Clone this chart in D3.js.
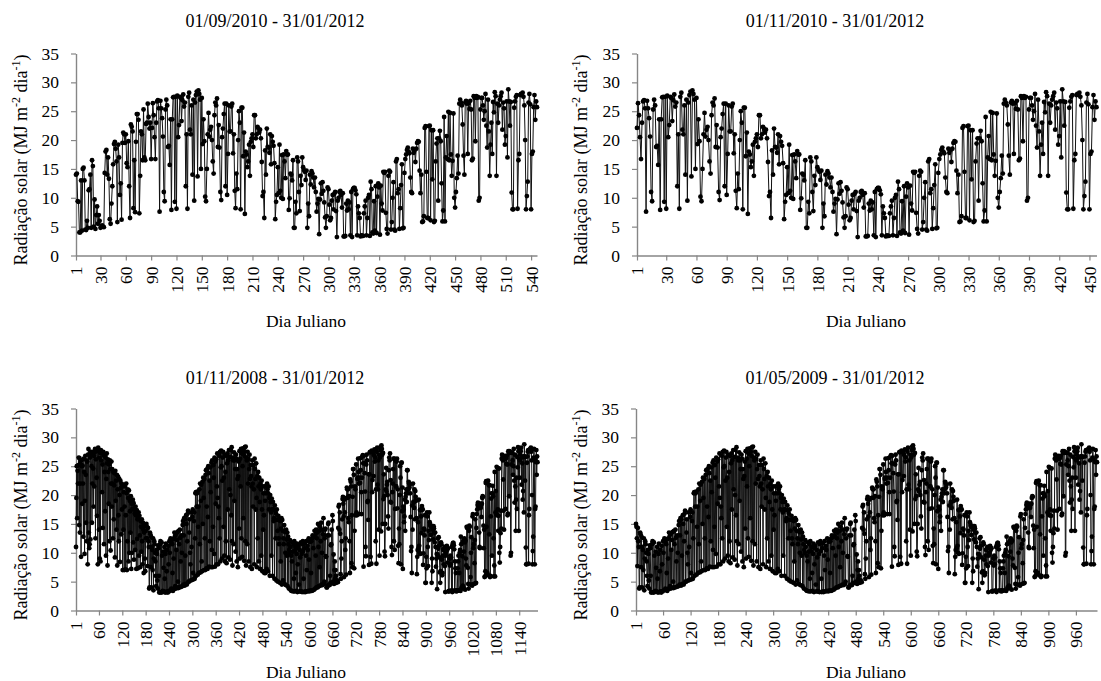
<!DOCTYPE html>
<html>
<head>
<meta charset="utf-8">
<script src="https://cdn.jsdelivr.net/npm/d3@7"></script>
<style>
  html, body { margin: 0; padding: 0; background: #fff; }
  svg text { font-family: 'Liberation Serif', 'Times New Roman', Times, serif !important; }
</style>
</head>
<body>
<svg id="chart" width="1101" height="681"></svg>
<script>
// Daily global solar radiation (MJ m-2 dia-1), one array per month,
// from 01/11/2008 to 31/01/2012.
const nov2008 = [11.0,19.5,25.0,16.0,24.2,22.0,25.2,26.5,14.8,26.4,13.5,22.0,25.5,9.3,26.0,25.0,18.5,25.1,22.0,12.8,26.3,24.0,9.8,19.0,26.8,23.5,15.2,26.0,12.0,25.8];
const dec2008 = [8.0,27.0,28.0,13.5,10.8,11.5,26.5,12.3,27.5,27.0,25.0,15.2,22.0,27.5,24.6,18.0,26.8,21.5,27.4,28.0,12.5,26.2,27.6,23.0,16.4,27.9,8.0,28.2,27.8,14.0,26.5];
const jan2009 = [9.0,27.3,8.5,27.8,26.0,27.5,20.5,25.3,14.3,27.5,26.8,11.5,24.0,27.0,17.2,26.5,9.5,22.8,27.2,25.5,7.8,26.2,24.0,18.5,25.3,12.0,26.0,24.5,10.4,22.0,25.8];
const feb2009 = [18.0,24.5,22.0,12.5,24.0,15.8,21.7,23.8,9.2,24.2,19.0,22.5,14.0,23.5,7.8,21.0,23.2,16.5,12.0,22.8,20.0,8.4,22.5,21.2,13.2,22.0,17.5,21.5];
const mar2009 = [7.0,21.8,14.0,20.5,7.0,18.0,21.5,7.1,16.5,22.0,20.3,7.0,12.0,21.0,19.5,8.5,20.8,10.0,19.0,17.2,13.5,19.8,7.2,18.5,10.0,17.6,19.2,11.8,18.6,8.8,17.5];
const apr2009 = [16.8,10.5,18.0,16.5,7.2,17.4,12.4,15.8,7.3,16.0,17.0,9.5,16.4,13.0,7.5,15.5,14.5,10.2,15.8,12.0,8.0,15.2,14.0,6.5,13.5,14.6,9.0,6.8,13.8,12.5];
const may2009 = [15.0,14.5,12.5,7.7,14.3,12.0,11.0,3.8,4.0,13.5,13.2,7.5,12.8,4.0,11.0,10.5,7.0,12.5,3.5,9.0,12.0,11.5,10.0,8.5,6.0,4.2,10.5,9.8,5.2,3.8,11.3];
const jun2009 = [10.8,6.0,3.1,3.2,11.5,12.0,3.2,3.1,11.8,9.5,3.2,3.4,10.2,7.4,3.3,11.0,5.5,3.1,9.8,11.6,3.2,6.8,10.5,3.3,3.1,11.2,8.0,3.3,12.0,10.0];
const jul2009 = [3.5,12.5,12.0,3.8,3.6,11.5,6.5,3.4,12.4,9.0,3.7,13.5,12.8,4.2,13.2,3.8,10.5,4.0,12.2,13.6,5.0,3.9,13.8,11.5,4.0,14.0,12.6,8.5,4.1,13.0,10.0];
const aug2009 = [4.2,14.8,15.5,4.5,13.0,16.0,4.3,15.8,9.5,4.6,16.5,15.0,4.5,12.0,16.8,17.3,5.0,5.0,13.5,15.8,10.0,8.0,5.2,17.0,11.0,5.3,16.2,17.5,6.5,5.4,15.5];
const sep2009 = [17.0,5.5,12.5,20.3,20.5,6.0,18.0,20.3,20.6,6.2,14.5,18.0,6.5,21.0,11.5,22.0,6.6,19.0,21.8,8.5,6.8,22.3,15.0,23.0,19.5,7.0,22.8,12.5,7.0,23.5];
const oct2009 = [24.3,7.3,18.0,24.5,7.2,16.2,25.0,23.8,7.6,22.5,12.0,24.8,20.5,7.5,25.6,10.5,26.0,7.5,14.5,25.2,23.0,9.8,26.5,7.6,25.8,18.5,26.2,8.0,21.5,27.2,19.5];
const nov2009 = [8.0,18.0,16.0,26.8,12.5,27.5,8.5,24.8,27.7,25.0,9.0,22.5,26.5,27.5,14.5,23.0,9.5,27.0,8.5,24.0,12.0,26.8,8.2,25.5,27.2,17.5,26.0,9.2,27.8,21.0];
const dec2009 = [26.6,8.8,20.0,27.8,16.5,28.3,12.0,7.8,26.5,26.0,11.5,27.4,19.0,26.0,24.5,10.2,27.0,26.3,8.5,24.5,22.8,7.5,23.3,25.8,14.2,27.6,9.0,26.3,21.5,28.0,12.5];
const jan2010 = [27.2,9.3,25.0,28.1,16.0,27.5,8.6,26.8,28.3,12.0,28.4,7.8,26.5,26.0,11.5,27.5,22.0,26.3,8.5,24.5,27.0,22.8,7.5,25.2,23.3,21.5,7.2,26.0,22.0,18.0,25.2];
const feb2010 = [21.0,8.0,26.3,24.5,22.8,17.5,25.5,19.5,7.5,23.3,12.5,24.0,21.5,8.5,23.0,18.8,7.2,22.0,21.0,9.5,22.5,17.5,6.8,21.5,14.0,20.3,16.5,6.5];
const mar2010 = [21.5,19.0,6.5,20.3,21.5,7.2,22.0,21.0,6.8,20.3,21.5,17.5,19.5,6.0,20.0,18.8,17.0,9.5,19.4,17.5,6.0,18.8,17.5,15.5,16.0,5.5,18.2,17.3,12.5,16.8,5.2];
const apr2010 = [17.5,15.7,13.8,5.0,16.4,12.5,11.5,15.8,4.8,15.5,8.5,14.2,16.0,4.5,15.7,13.8,5.2,12.5,11.5,14.8,4.6,13.6,10.0,4.4,14.0,12.3,9.5,13.5,4.2,12.8];
const may2010 = [11.5,3.8,10.5,10.0,12.2,11.0,3.5,9.5,3.4,8.5,11.8,10.2,3.3,11.5,5.5,12.0,3.3,10.3,11.0,6.5,3.4,9.8,11.6,3.2,8.0,10.8,11.2,4.5,3.3,10.5,9.2];
const jun2010 = [3.3,11.8,3.3,9.8,3.2,11.5,12.0,10.3,5.5,3.2,10.8,11.6,3.3,3.2,9.5,12.0,7.0,3.3,11.2,10.5,3.4,12.5,8.8,3.3,11.9,12.3,3.5,6.5,12.0,3.4];
const jul2010 = [12.5,13.0,3.5,10.8,12.8,3.6,13.8,13.0,3.8,9.5,14.0,4.0,12.5,13.5,4.0,15.0,11.0,4.2,13.8,7.5,14.5,4.3,12.0,15.2,4.5,10.0,14.0,4.4,13.2,16.0,4.6];
const aug2010 = [5.0,12.5,14.0,14.2,9.4,9.3,4.0,4.0,13.0,4.3,15.0,15.2,13.0,4.5,4.4,6.0,4.8,11.3,11.5,14.0,4.8,16.5,15.5,5.0,9.7,4.6,7.0,8.5,5.5,7.0,6.0];
const sep2010 = [4.8,5.0,5.2,5.0,4.9,14.3,18.0,18.3,14.0,17.0,13.3,6.3,5.5,9.0,12.0,15.8,19.3,19.7,18.5,16.3,5.8,19.2,17.0,10.5,12.5,6.2,19.5,21.3,21.0,19.5];
const oct2010 = [21.0,16.0,15.3,19.8,12.0,6.5,22.7,22.3,21.5,8.2,16.5,7.5,19.7,24.5,24.5,23.5,7.3,13.8,21.5,21.0,16.5,25.3,17.0,16.5,22.8,23.0,26.3,24.0,22.0,23.0,16.7];
const nov2010 = [22.1,26.4,24.3,20.5,16.7,23.0,26.7,26.9,25.5,7.6,26.8,25.5,23.8,20.6,11.0,9.4,25.3,27.0,26.0,18.8,19.0,15.7,23.6,7.9,23.6,27.4,27.5,9.3,27.5,8.1];
const dec2010 = [27.7,20.5,22.6,27.5,27.3,23.3,26.9,27.9,25.8,26.5,12.0,21.0,8.1,27.5,28.2,21.8,21.0,26.0,14.0,27.0,9.5,26.5,27.8,28.4,13.7,28.6,28.0,27.0,15.0,27.3,19.3];
const jan2011 = [23.6,19.8,10.2,9.4,15.0,21.0,24.7,20.6,21.8,22.3,20.0,16.3,14.2,24.3,26.5,26.0,27.2,18.8,22.6,18.7,11.0,9.6,20.5,22.0,24.5,26.3,12.0,26.3,10.5,17.6,26.0];
const feb2011 = [21.5,21.5,25.8,26.3,17.7,21.0,11.2,8.2,14.2,11.5,20.0,25.0,23.0,8.0,25.6,25.6,17.2,21.3,7.2,18.0,17.5,15.3,16.3,19.2,13.8,19.7,20.3,21.0];
const mar2011 = [18.8,24.3,24.3,20.3,21.0,22.3,22.0,21.3,21.8,20.3,16.2,10.3,11.0,6.5,18.2,14.0,22.0,18.8,18.7,17.8,21.0,15.8,20.7,19.7,19.0,16.0,6.3,9.3,10.5,15.3,10.8];
const apr2011 = [19.2,11.2,10.0,17.4,9.8,17.5,16.3,13.4,18.1,17.5,17.5,7.9,9.9,14.2,14.0,13.0,16.5,4.8,4.8,9.3,7.3,17.0,16.3,11.0,7.7,13.8,12.2,17.0,15.3,14.8];
const may2011 = [14.5,13.1,14.7,4.8,9.0,6.8,14.0,12.3,14.6,14.2,13.5,11.8,13.5,11.0,7.6,9.0,9.8,3.7,9.7,12.5,10.7,12.7,11.2,9.2,6.6,4.8,6.8,11.8,11.5,8.8,6.1];
const jun2011 = [6.5,9.5,10.5,8.0,10.7,11.0,7.7,3.2,9.5,10.0,11.0,11.2,10.5,8.3,10.8,3.3,3.3,3.4,9.0,7.8,9.5,8.0,9.2,3.5,11.0,3.2,11.5,11.7,11.7,11.3];
const jul2011 = [10.6,3.5,8.5,7.3,6.5,3.3,3.5,3.4,3.4,7.3,8.5,9.5,3.5,6.5,10.0,10.5,3.4,12.8,11.5,4.0,3.8,9.4,4.3,12.0,3.9,10.2,12.5,11.8,3.6,12.1,9.0];
const aug2011 = [7.8,14.5,14.3,14.5,7.4,4.6,3.8,13.8,14.7,14.5,4.5,5.8,10.0,12.7,4.5,4.3,16.3,16.7,10.8,11.5,4.6,8.2,12.2,15.8,4.7,4.8,14.3,16.7,17.5,18.3,18.7];
const sep2011 = [18.0,17.7,13.5,11.0,10.8,18.5,17.8,18.3,16.2,18.5,19.5,19.8,19.7,14.7,10.8,14.0,5.8,5.9,6.8,22.1,22.4,14.5,6.5,6.5,22.4,22.5,6.1,21.7,13.2,21.7];
const oct2011 = [5.8,6.0,16.3,19.4,20.3,9.5,20.3,21.6,19.8,12.5,5.9,7.8,24.0,5.9,17.0,20.7,16.7,24.9,16.5,24.7,17.5,13.8,16.4,24.6,10.0,8.3,11.0,13.4,17.3,14.2,26.3];
const nov2011 = [27.0,26.5,26.0,22.7,17.3,14.0,26.5,26.8,26.3,17.6,26.4,25.4,26.8,25.3,16.5,16.8,27.6,27.3,19.8,27.6,27.3,27.5,9.5,10.0,25.3,27.3,27.3,26.0,23.5,25.0];
const dec2011 = [28.0,22.5,18.7,27.0,21.5,13.8,19.2,23.0,17.6,26.6,24.8,28.3,27.6,13.8,26.3,23.0,26.0,27.0,27.6,28.2,21.8,26.5,25.5,19.2,20.7,26.7,17.0,28.8,26.7,22.5,26.6];
const jan2012 = [10.9,8.0,8.0,25.6,26.7,27.5,27.8,8.1,16.5,17.6,27.8,28.0,27.8,28.2,27.5,26.0,20.0,8.0,10.3,12.8,26.5,28.0,26.2,8.0,17.6,18.0,25.7,27.8,23.5,26.7,25.7];

const months = [
  nov2008, dec2008,
  jan2009, feb2009, mar2009, apr2009, may2009, jun2009, jul2009, aug2009, sep2009, oct2009, nov2009, dec2009,
  jan2010, feb2010, mar2010, apr2010, may2010, jun2010, jul2010, aug2010, sep2010, oct2010, nov2010, dec2010,
  jan2011, feb2011, mar2011, apr2011, may2011, jun2011, jul2011, aug2011, sep2011, oct2011, nov2011, dec2011,
  jan2012
];
const series = [].concat(...months);

// index of the first day of a month inside the full series
function startOf(month) {
  let idx = 0;
  for (const m of months) { if (m === month) return idx; idx += m.length; }
  return 0;
}

const panelTitles = ["01/09/2010 - 31/01/2012", "01/11/2010 - 31/01/2012",
                     "01/11/2008 - 31/01/2012", "01/05/2009 - 31/01/2012"];
const daysTopLeft = 547;
const yTicks = [0, 5, 10, 15, 20, 25, 30, 35];
const ticksTopLeft = [1, 30, 60, 90, 120, 150, 180, 210, 240, 270, 300, 330, 360, 390, 420, 450, 480, 510, 540];
const ticksTopRight = [1, 30, 60, 90, 120, 150, 180, 210, 240, 270, 300, 330, 360, 390, 420, 450];
const ticksBottomLeft = [1, 60, 120, 180, 240, 300, 360, 420, 480, 540, 600, 660, 720, 780, 840, 900, 960, 1020, 1080, 1140];
const ticksBottomRight = [1, 60, 120, 180, 240, 300, 360, 420, 480, 540, 600, 660, 720, 780, 840, 900, 960];
const xTitle = "Dia Juliano";

const panels = [
  { title: panelTitles[0], start: series.length - daysTopLeft, ticks: ticksTopLeft,
    left: 76, right: 537, top: 53.5, bottom: 255.5, titleX: 275, titleY: 27, xTitleX: 306, xTitleY: 327, yLabX: 27, yLabY: 160 },
  { title: panelTitles[1], start: startOf(nov2010), ticks: ticksTopRight,
    left: 637, right: 1096.5, top: 53.5, bottom: 255.5, titleX: 835, titleY: 27, xTitleX: 866, xTitleY: 327, yLabX: 587, yLabY: 160 },
  { title: panelTitles[2], start: 0, ticks: ticksBottomLeft,
    left: 76, right: 537.5, top: 408.5, bottom: 610.5, titleX: 275, titleY: 384, xTitleX: 306, xTitleY: 678, yLabX: 27, yLabY: 515 },
  { title: panelTitles[3], start: startOf(may2009), ticks: ticksBottomRight,
    left: 636, right: 1097, top: 408.5, bottom: 610.5, titleX: 835, titleY: 384, xTitleX: 866, xTitleY: 678, yLabX: 587, yLabY: 515 }
];

const svg = d3.select("#chart");
const axisColor = "#868686";

panels.forEach(p => {
  const vals = series.slice(p.start);
  const n = vals.length;
  const x = d3.scaleLinear().domain([1, n]).range([p.left, p.right]);
  const y = d3.scaleLinear().domain([0, 35]).range([p.bottom, p.top]);
  const g = svg.append("g");

  // y axis
  const ya = g.append("g")
    .attr("transform", `translate(${p.left},0)`)
    .call(d3.axisLeft(y).tickValues(yTicks).tickSize(5).tickSizeOuter(0).tickPadding(12));
  ya.attr("font-family", null);
  ya.select(".domain").attr("stroke", axisColor).attr("stroke-width", 1.4);
  ya.selectAll(".tick line").attr("stroke", axisColor).attr("stroke-width", 1.2);
  ya.selectAll(".tick text").attr("fill", "#000").attr("font-size", 17.5);

  // x axis, labels turned vertical
  const xa = g.append("g")
    .attr("transform", `translate(0,${p.bottom})`)
    .call(d3.axisBottom(x).tickValues(p.ticks).tickFormat(d3.format("d")).tickSize(5).tickSizeOuter(0));
  xa.attr("font-family", null);
  xa.select(".domain").attr("stroke", axisColor).attr("stroke-width", 1.4);
  xa.selectAll(".tick line").attr("stroke", axisColor).attr("stroke-width", 1.2);
  xa.selectAll(".tick text")
    .attr("fill", "#000").attr("font-size", 17.5)
    .attr("transform", "rotate(-90)")
    .attr("text-anchor", "end")
    .attr("x", -11).attr("y", 0).attr("dy", "0.34em");

  // daily series: line then markers
  g.append("path")
    .datum(vals)
    .attr("fill", "none")
    .attr("stroke", "#111")
    .attr("stroke-width", 1)
    .attr("d", d3.line().x((d, i) => x(i + 1)).y(d => y(d)));
  g.append("g").selectAll("circle")
    .data(vals)
    .join("circle")
    .attr("cx", (d, i) => x(i + 1))
    .attr("cy", d => y(d))
    .attr("r", 2.4)
    .attr("fill", "#000");

  // titles
  g.append("text")
    .attr("x", p.titleX).attr("y", p.titleY)
    .attr("text-anchor", "middle").attr("font-size", 18).attr("fill", "#000")
    .text(p.title);
  g.append("text")
    .attr("x", p.xTitleX).attr("y", p.xTitleY)
    .attr("text-anchor", "middle").attr("font-size", 17.5).attr("fill", "#000")
    .text(xTitle);

  const yl = g.append("text")
    .attr("transform", `translate(${p.yLabX},${p.yLabY}) rotate(-90)`)
    .attr("text-anchor", "middle").attr("font-size", 18).attr("fill", "#000");
  yl.append("tspan").text("Radiação solar (MJ m");
  yl.append("tspan").attr("dy", -7).attr("font-size", 12).text("-2");
  yl.append("tspan").attr("dy", 7).text(" dia");
  yl.append("tspan").attr("dy", -7).attr("font-size", 12).text("-1");
  yl.append("tspan").attr("dy", 7).text(")");
});
</script>
</body>
</html>
